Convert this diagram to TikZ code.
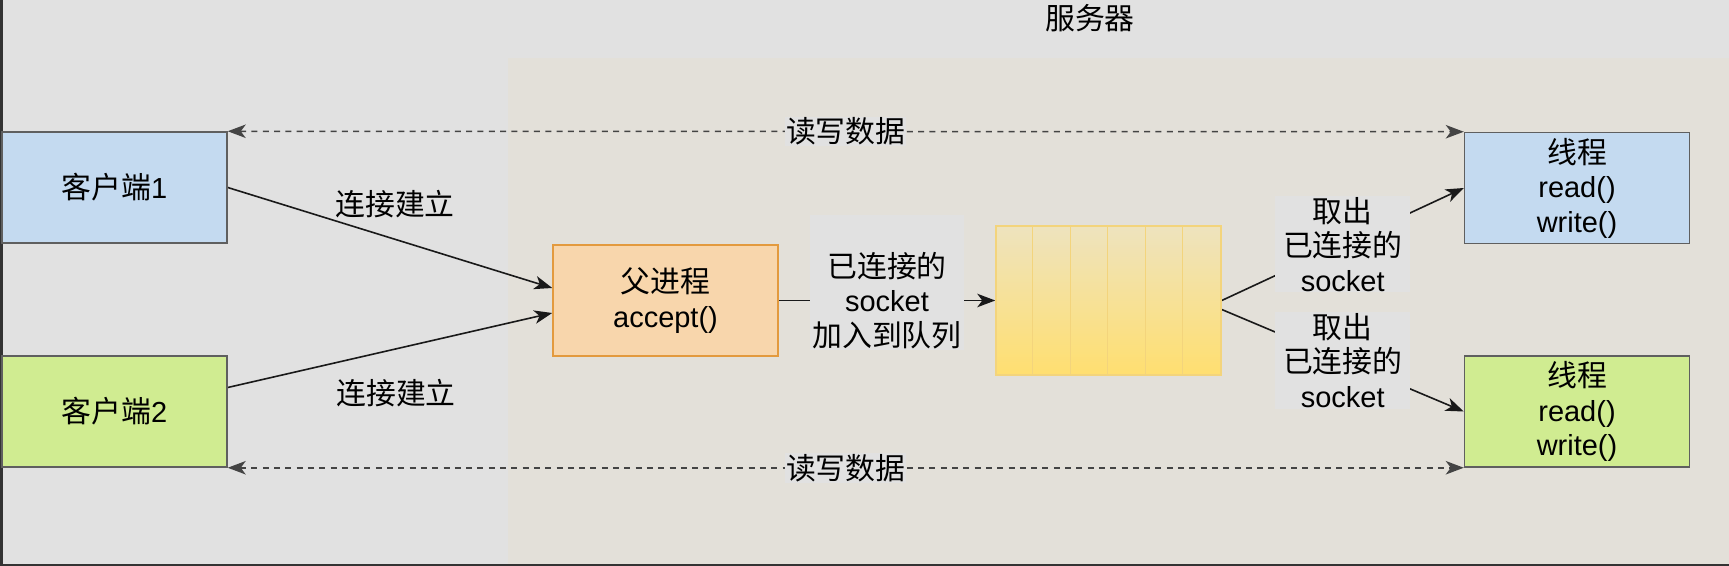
\documentclass[tikz,border=0pt]{standalone}
\usepackage{fontspec}
\setmainfont{Liberation Sans}
\newfontfamily\cjk[Scale=1.03]{Noto Sans CJK SC}
\usepackage{tikz}
\usetikzlibrary{arrows.meta}
\pgfdeclarelayer{bglayer}
\pgfdeclarelayer{edgelayer}
\pgfdeclarelayer{nodelayer}
\pgfsetlayers{bglayer,edgelayer,nodelayer,main}
\definecolor{pagebg}{HTML}{E1E1E1}
\definecolor{serverbg}{HTML}{E3E0D9}
\definecolor{framedark}{HTML}{333333}
\definecolor{boxline}{HTML}{5F5F5F}
\definecolor{boxblue}{HTML}{C4DAF0}
\definecolor{boxgreen}{HTML}{D0EC91}
\definecolor{procfill}{HTML}{F8D6AC}
\definecolor{procline}{HTML}{E39A3E}
\definecolor{queuetop}{HTML}{EEE3BE}
\definecolor{queuebottom}{HTML}{FFDF70}
\definecolor{queueline}{HTML}{F3D47C}
\definecolor{dashline}{HTML}{444444}
\tikzstyle{none}=[inner sep=0pt]
\tikzstyle{box}=[rectangle,draw=boxline,line width=0.03cm,minimum width=4.5cm,minimum height=2.22cm,inner sep=0pt,align=center]
\tikzstyle{blue box}=[box,fill=boxblue]
\tikzstyle{green box}=[box,fill=boxgreen]
\tikzstyle{parent}=[box,fill=procfill,draw=procline]
\tikzstyle{queue}=[rectangle,draw=queueline,line width=0.03cm,top color=queuetop,bottom color=queuebottom,minimum width=4.5cm,minimum height=2.98cm,inner sep=0pt]
\tikzstyle{tag}=[fill=pagebg,inner xsep=0.16cm,inner ysep=0.02cm,align=center]
\tikzstyle{transition}=[-{Stealth[length=0.36cm,width=0.27cm,inset=0.1cm]},draw=black!90,line width=0.032cm]
\tikzstyle{exchange}=[{Stealth[length=0.36cm,width=0.27cm,inset=0.1cm]}-{Stealth[length=0.36cm,width=0.27cm,inset=0.1cm]},draw=dashline,line width=0.03cm,dash pattern=on 0.12cm off 0.106cm]

\begin{document}
\begin{tikzpicture}[font=\fontsize{16.5}{19.6}\selectfont]
	\useasboundingbox (0, 0) rectangle (34.58, -11.32);
	\begin{pgfonlayer}{bglayer}
		\fill [pagebg] (0, 0) rectangle (34.58, -11.32);
		\fill [serverbg] (10.16, -1.16) rectangle (34.58, -11.32);
		\fill [framedark] (0, 0) rectangle (0.05, -11.32);
		\fill [framedark] (0, -11.27) rectangle (34.58, -11.32);
	\end{pgfonlayer}
	\begin{pgfonlayer}{nodelayer}
		\node [style=blue box] (0) at (2.29, -3.75) {{\cjk 客户端}1};
		\node [style=green box] (1) at (2.29, -8.23) {{\cjk 客户端}2};
		\node [style=parent] (2) at (13.31, -6.01) {{\cjk 父进程}\\accept()};
		\node [style=queue] (3) at (22.17, -6.01) {};
		\node [style=blue box] (4) at (31.54, -3.76) {{\cjk 线程}\\read()\\write()};
		\node [style=green box] (5) at (31.54, -8.23) {{\cjk 线程}\\read()\\write()};
		\node [style=none] (6) at (21.8, -0.37) {\cjk 服务器};
		\draw [draw=queueline, line width=0.02cm] ([xshift=0.75cm]3.north west) -- ([xshift=0.75cm]3.south west);
		\draw [draw=queueline, line width=0.02cm] ([xshift=1.5cm]3.north west) -- ([xshift=1.5cm]3.south west);
		\draw [draw=queueline, line width=0.02cm] ([xshift=2.25cm]3.north west) -- ([xshift=2.25cm]3.south west);
		\draw [draw=queueline, line width=0.02cm] ([xshift=3cm]3.north west) -- ([xshift=3cm]3.south west);
		\draw [draw=queueline, line width=0.02cm] ([xshift=3.75cm]3.north west) -- ([xshift=3.75cm]3.south west);
	\end{pgfonlayer}
	\begin{pgfonlayer}{edgelayer}
		\draw [style=transition] (0.east) to node[style=none, xshift=0.1cm, yshift=0.68cm]{\cjk 连接建立} ([yshift=0.25cm]2.west);
		\draw [style=transition] ([yshift=0.48cm]1.east) to node[style=none, xshift=0.12cm, yshift=-0.85cm]{\cjk 连接建立} ([yshift=-0.25cm]2.west);
		\draw [style=transition] (2) to node[style=tag, inner xsep=0.04cm, yshift=0.36cm]{\rule{0pt}{1.22cm}{\cjk 已连接的}\\socket\\{\cjk 加入到队列}} (3);
		\draw [style=transition] (3.east) to node[style=tag]{{\cjk 取出}\\{\cjk 已连接的}\\socket} (4.west);
		\draw [style=transition] ([yshift=-0.18cm]3.east) to node[style=tag]{{\cjk 取出}\\{\cjk 已连接的}\\socket} (5.west);
		\draw [style=exchange] (0.north east) to node[style=tag, inner xsep=0.02cm]{\cjk 读写数据} (4.north west);
		\draw [style=exchange] (1.south east) to node[style=tag, inner xsep=0.02cm]{\cjk 读写数据} (5.south west);
	\end{pgfonlayer}
\end{tikzpicture}
\end{document}
